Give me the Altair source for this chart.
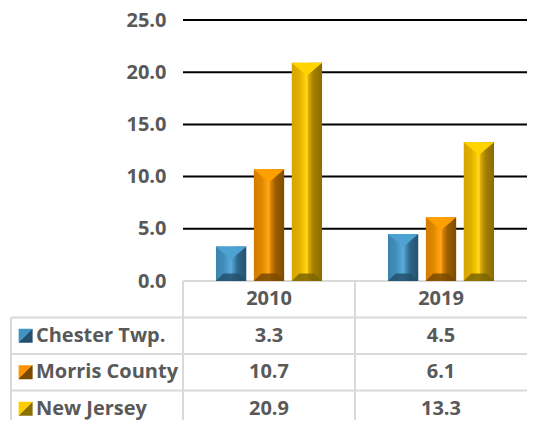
import altair as alt
import pandas as pd

years = ["2010", "2019"]
series = ["Chester Twp.", "Morris County", "New Jersey"]
chester = [3.3, 4.5]
morris = [10.7, 6.1]
new_jersey = [20.9, 13.3]
y_ticks = [0, 5, 10, 15, 20, 25]
grid_values = [5, 10, 15, 20, 25]

values = {"Chester Twp.": chester, "Morris County": morris, "New Jersey": new_jersey}

rows = []
for s in series:
    for yr, v in zip(years, values[s]):
        rows.append({"year": yr, "series": s, "value": v, "zero": 0, "txt": f"{v:.1f}"})
df = pd.DataFrame(rows)

W, H = 344, 261
ROW = 36.5
FONT = "Open Sans"
FS = 20
TXT = "#595959"
COLS = ["label"] + years
ROWS = ["header"] + series

bar_stops = {
    "Chester Twp.": [(0, "#3b84ae"), (0.25, "#418db9"), (0.45, "#55a5d4"), (0.5, "#5cacd9"),
                     (0.56, "#4a98c5"), (0.72, "#2e6689"), (1, "#24536f")],
    "Morris County": [(0, "#d27c00"), (0.25, "#e08700"), (0.45, "#ffa010"), (0.5, "#ffa826"),
                      (0.56, "#d98200"), (0.72, "#9a5e00"), (1, "#7f4c00")],
    "New Jersey": [(0, "#d6a500"), (0.25, "#e0b000"), (0.45, "#ffd000"), (0.5, "#ffd935"),
                   (0.56, "#d9aa00"), (0.72, "#a38000"), (1, "#8a6c00")],
}
top_face = {"Chester Twp.": "#4ea2d3", "Morris County": "#ff9f00", "New Jersey": "#ffd400"}
bottom_face = {"Chester Twp.": "#23506c", "Morris County": "#7a4a00", "New Jersey": "#7d6600"}
swatch_cols = {
    "Chester Twp.": ("#4393c0", "#23506c"),
    "Morris County": ("#ff9400", "#7a4a00"),
    "New Jersey": ("#ffcc00", "#8a7000"),
}

x_scale = alt.Scale(domain=COLS, range=[-W / 2, W], paddingInner=0, paddingOuter=0)
xoff_scale = alt.Scale(domain=series, paddingInner=0.2, paddingOuter=0.87)
y_scale = alt.Scale(domain=[0, 25], nice=False)
t_scale = alt.Scale(type="band", domain=ROWS, range=[H, H + ROW * 4], paddingInner=0, paddingOuter=0)

BAR_W = 30.5
SYM = BAR_W * BAR_W

# ---- bars group ----
grid = alt.Chart(pd.DataFrame({"v": grid_values})).mark_rule(color="black", strokeWidth=2).encode(
    y=alt.Y("v:Q", scale=y_scale)
)

x_enc = alt.X("year:N", scale=x_scale, axis=None)
xo_enc = alt.XOffset("series:N", scale=xoff_scale)

bar_layers = []
for s in series:
    grad = alt.LinearGradient(
        gradient="linear",
        stops=[alt.GradientStop(color=c, offset=o) for o, c in bar_stops[s]],
        x1=0, x2=1, y1=0, y2=0,
    )
    base = alt.Chart(df).transform_filter(alt.datum.series == s)
    bar_layers.append(
        base.mark_bar(fill=grad).encode(
            x=x_enc,
            xOffset=xo_enc,
            y=alt.Y(
                "value:Q",
                scale=y_scale,
                axis=alt.Axis(
                    values=y_ticks, format=".1f", title=None, ticks=False, domain=False, grid=False,
                    labelFont=FONT, labelFontSize=FS, labelFontWeight="bold", labelColor=TXT,
                    labelPadding=17,
                ),
            ),
        )
    )
    # bevel: top face triangle
    bar_layers.append(
        base.mark_point(shape="M-1,0L1,0L0,0.85Z", filled=True, size=SYM, fill=top_face[s],
                        opacity=1, strokeWidth=0).encode(
            x=x_enc, xOffset=xo_enc, y=alt.Y("value:Q", scale=y_scale)
        )
    )
    # bevel: bottom face trapezoid
    bar_layers.append(
        base.mark_point(shape="M-1,0L1,0L0.5,-0.5L-0.5,-0.5Z", filled=True, size=SYM,
                        fill=bottom_face[s], opacity=0.85, strokeWidth=0).encode(
            x=x_enc, xOffset=xo_enc, y=alt.Y("zero:Q", scale=y_scale)
        )
    )

bars_group = alt.layer(grid, *bar_layers)

# ---- table group ----
hlines = pd.DataFrame({
    "row": ROWS,
    "x0": ["2010", "label", "label", "label"],
    "x1": ["2019"] * 4,
})
vlines = pd.DataFrame({
    "col": ["2010", "2019", "label"],
    "r0": ["header", "header", series[0]],
    "r1": [series[-1]] * 3,
})

line_style = dict(color="#d9d9d9", strokeWidth=2)
hl = alt.Chart(hlines).mark_rule(**line_style).encode(
    x=alt.X("x0:N", scale=x_scale, axis=None, bandPosition=0),
    x2=alt.X2("x1", bandPosition=1),
    y=alt.Y("row:N", scale=t_scale, axis=None, bandPosition=0),
)
vl = alt.Chart(vlines).mark_rule(**line_style).encode(
    x=alt.X("col:N", scale=x_scale, axis=None, bandPosition=0),
    y=alt.Y("r0:N", scale=t_scale, axis=None, bandPosition=0),
    y2=alt.Y2("r1", bandPosition=1),
)

cells = pd.concat([
    pd.DataFrame({"col": years, "row": ["header"] * len(years), "txt": years}),
    pd.DataFrame({"col": df["year"], "row": df["series"], "txt": df["txt"]}),
])
cell_text = alt.Chart(cells).mark_text(
    font=FONT, fontSize=FS, fontWeight="bold", color=TXT, baseline="middle", align="center"
).encode(
    x=alt.X("col:N", scale=x_scale, axis=None),
    y=alt.Y("row:N", scale=t_scale, axis=None),
    text="txt:N",
)

labels = pd.DataFrame({"col": ["label"] * len(series), "row": series, "txt": series})
label_text = alt.Chart(labels).mark_text(
    font=FONT, fontSize=FS, fontWeight="bold", color=TXT, baseline="middle", align="left"
).encode(
    x=alt.X("col:N", scale=x_scale, axis=None, bandPosition=0.145),
    y=alt.Y("row:N", scale=t_scale, axis=None),
    text="txt:N",
)

swatches = []
for s in series:
    light, dark = swatch_cols[s]
    g = alt.LinearGradient(
        gradient="linear",
        stops=[alt.GradientStop(color=light, offset=0), alt.GradientStop(color=light, offset=0.5),
               alt.GradientStop(color=dark, offset=0.5), alt.GradientStop(color=dark, offset=1)],
        x1=0, y1=0, x2=1, y2=1,
    )
    swatches.append(
        alt.Chart(labels).transform_filter(alt.datum.row == s).mark_square(
            size=196, fill=g, opacity=1, strokeWidth=0
        ).encode(
            x=alt.X("col:N", scale=x_scale, axis=None, bandPosition=0.085),
            y=alt.Y("row:N", scale=t_scale, axis=None),
        )
    )

table_group = alt.layer(hl, vl, cell_text, label_text, *swatches)

chart = alt.layer(table_group, bars_group).resolve_scale(y="independent").properties(
    width=W,
    height=H,
    autosize=alt.AutoSizeParams(type="none"),
    padding={"left": 175, "top": 12, "right": 0, "bottom": 139},
    background="white",
).configure_view(stroke=None)

chart.save("out.html", embed_options={"renderer": "svg", "actions": False})
